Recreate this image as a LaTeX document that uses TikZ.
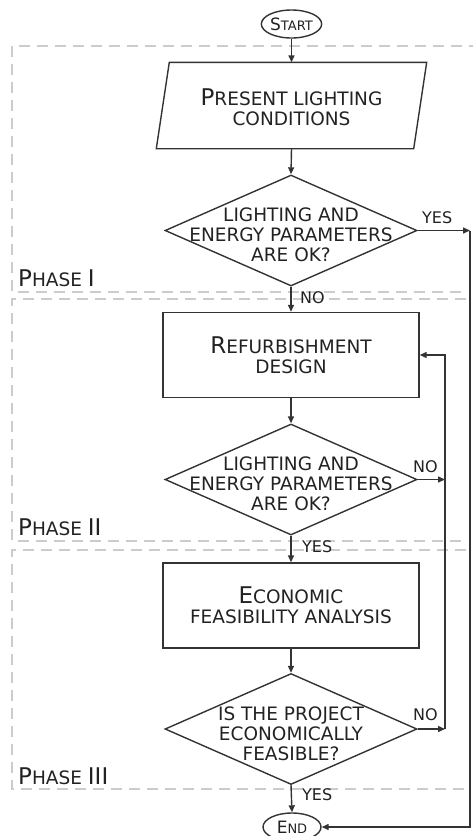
\documentclass[tikz,border=0pt]{standalone}
\usepackage{fontspec}
\setmainfont{DejaVu Sans}
\usetikzlibrary{shapes.geometric,arrows.meta}
\definecolor{ln}{HTML}{333333}
\definecolor{tx}{HTML}{222222}
\definecolor{dsh}{HTML}{CCCCCC}
\newcommand\capA[2][23]{{\fontsize{#1}{20}\selectfont #2}}
\tikzset{
  base/.style={draw=ln, line width=1.4pt, text=tx, font=\fontsize{18.5}{20}\selectfont, align=center},
  procbox/.style={base, rectangle, minimum width=256pt, minimum height=85pt, inner sep=0pt},
  decbox/.style={base, diamond, minimum width=252pt, minimum height=111pt, inner sep=0pt},
  termbox/.style={base, ellipse, minimum width=58pt, minimum height=28pt, inner sep=0pt, font=\fontsize{13}{14}\selectfont},
  arr/.style={draw=ln, line width=1.4pt, -{Triangle[length=7pt,width=6pt]}},
  lin/.style={draw=ln, line width=1.4pt},
  phasebox/.style={draw=dsh, line width=1.4pt, dash pattern=on 11pt off 7pt},
  lbl/.style={text=tx, font=\fontsize{16}{16}\selectfont, inner sep=0pt, anchor=base west},
  phlbl/.style={text=tx, font=\fontsize{18.5}{20}\selectfont, inner sep=0pt, anchor=base west},
}
\begin{document}
\begin{tikzpicture}[x=1pt,y=-1pt]
\useasboundingbox (0,0) rectangle (473,836);
\clip (0,0) rectangle (473,836);
% phase boxes
\draw[phasebox] (480,46) -- (12,46) -- (12,292) -- (466,292);
\draw[phasebox] (466,299) -- (12,299) -- (12,541) -- (466,541);
\draw[phasebox] (466,550) -- (12,550) -- (12,789) -- (466,789);
\node[phlbl] (ph1) at (18,286) {\capA{P}HASE \capA{I}};
\node[phlbl] (ph2) at (18,535) {\capA{P}HASE \capA{II}};
\node[phlbl] (ph3) at (18,784) {\capA{P}HASE \capA{III}};
% nodes
\node[termbox] (start) at (291.5,24) {\capA[17]{S}TART};
\node[procbox, draw=none] (present) at (291.5,105.5) {};
\draw[lin] ([xshift=6.5pt]present.north west) -- ([xshift=6.5pt]present.north east)
  -- ([xshift=-6.5pt]present.south east) -- ([xshift=-6.5pt]present.south west) -- cycle;
\node[text=tx, font=\fontsize{18.5}{20}\selectfont, align=center] (presenttext) at (291.5,107.5) {\capA{P}RESENT LIGHTING\\CONDITIONS};
\node[decbox, label={[text=tx, font=\fontsize{18.5}{20}\selectfont, align=center, yshift=-4pt]center:LIGHTING AND\\ENERGY PARAMETERS\\ARE OK?}] (d1) at (291,230.5) {};
\node[procbox] (refurb) at (291,355) {\capA{R}EFURBISHMENT\\DESIGN};
\node[decbox, label={[text=tx, font=\fontsize{18.5}{20}\selectfont, align=center, yshift=-4pt]center:LIGHTING AND\\ENERGY PARAMETERS\\ARE OK?}] (d2) at (291,479.5) {};
\node[procbox] (econ) at (291,605.5) {\capA{E}CONOMIC\\FEASIBILITY ANALYSIS};
\node[decbox, label={[text=tx, font=\fontsize{18.5}{20}\selectfont, align=center, yshift=-5pt]center:IS THE PROJECT\\ECONOMICALLY\\FEASIBLE?}] (d3) at (291,729) {};
\node[termbox] (end) at (292,827) {\capA[17]{E}ND};
% coordinates
\coordinate (cR) at (470,230.5);
\coordinate (cL2) at (445,479.5);
\coordinate (cL3) at (445,729);
% connectors
\draw[arr] (start) -- (present.north);
\draw[arr] (present.south) -- (d1.north);
\draw[arr] (d1.south) -- (refurb.north);
\draw[arr] (d1.east) -- (cR);
\draw[arr] (cR) |- (end.east);
\draw[arr] (refurb.south) -- (d2.north);
\draw[arr] (d2.east) -- (cL2);
\draw[arr] (d2.south) -- (econ.north);
\draw[arr] (econ.south) -- (d3.north);
\draw[arr] (d3.east) -- (cL3);
\draw[arr] (cL3) |- (refurb.east);
\draw[arr] (d3.south) -- (end.north);
% labels
\node[lbl] (yes1) at (422,223) {YES};
\node[lbl] (no1) at (300,303) {NO};
\node[lbl] (no2) at (413,472) {NO};
\node[lbl] (yes2) at (302,552) {YES};
\node[lbl] (no3) at (413,720) {NO};
\node[lbl] (yes3) at (302,800) {YES};
\end{tikzpicture}
\end{document}
